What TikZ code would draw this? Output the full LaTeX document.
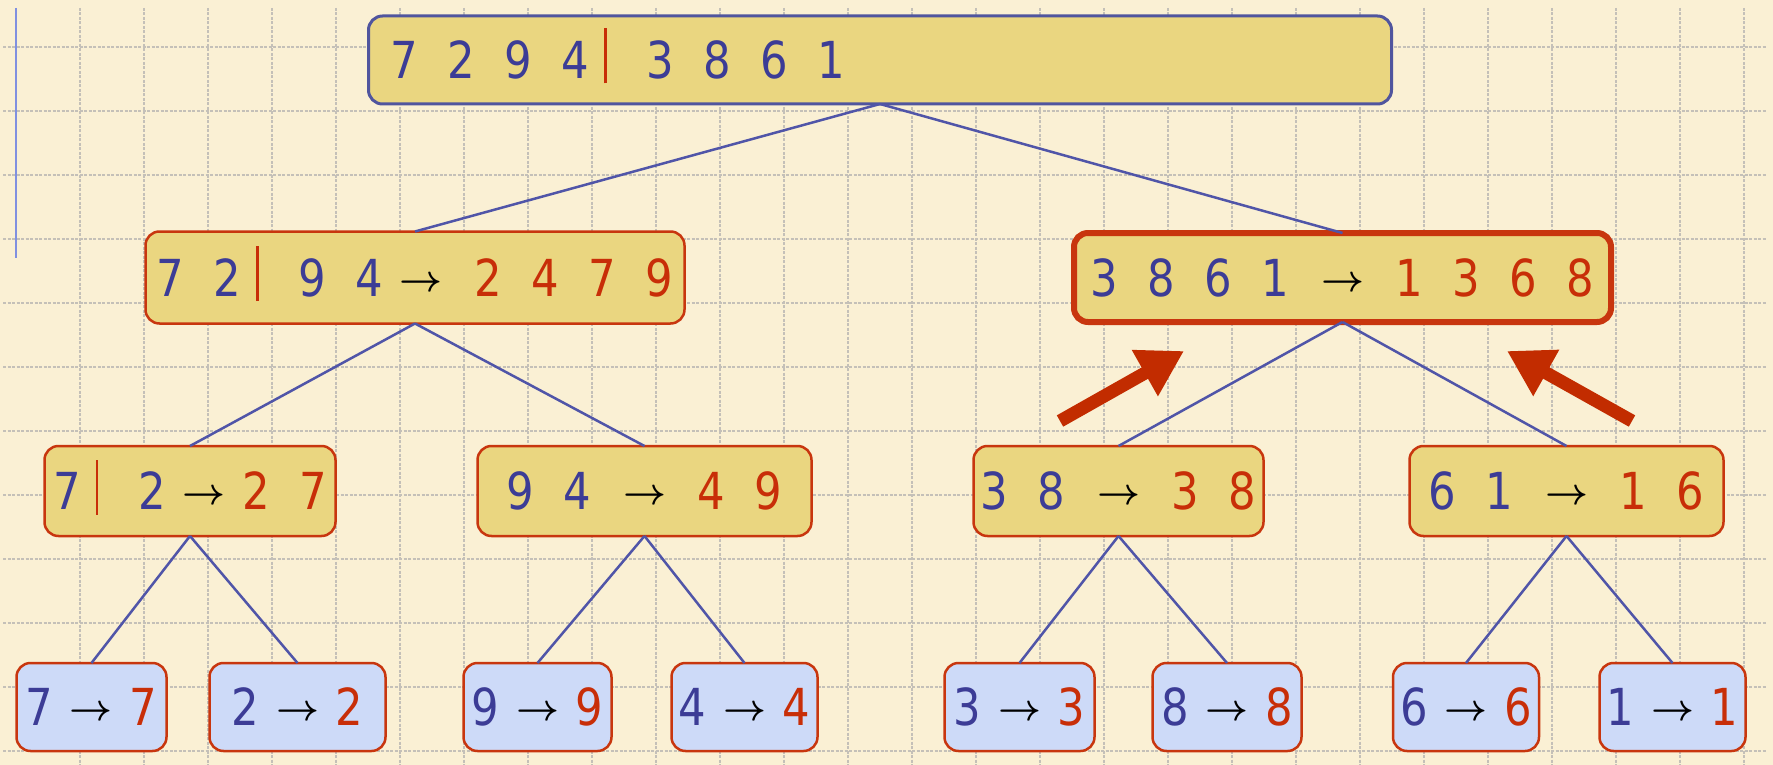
\documentclass[tikz,border=0pt]{standalone}
\usepackage{fontspec}
\usepackage{graphicx}
\setmainfont{DejaVu Sans}[FakeStretch=0.85]
\usetikzlibrary{arrows.meta}
\definecolor{bg}{HTML}{FAF0D4}
\definecolor{gridc}{HTML}{C4C0B8}
\definecolor{vline}{HTML}{8090E0}
\definecolor{nodey}{HTML}{EAD680}
\definecolor{leafb}{HTML}{CDDAF8}
\definecolor{bblue}{HTML}{50559E}
\definecolor{bred}{HTML}{C8360E}
\definecolor{tblue}{HTML}{3C3C96}
\definecolor{tred}{HTML}{C82E08}
\definecolor{conn}{HTML}{5055A8}
\definecolor{bigred}{HTML}{C22C00}
\newcommand\bd[1]{\makebox[42pt]{\textcolor{tblue}{#1}}}
\newcommand\rd[1]{\makebox[42pt]{\textcolor{tred}{#1}}}
\newcommand\gp{\hspace*{15pt}}
\newcommand\arr{\makebox[62pt]{\raisebox{5pt}{\resizebox{43pt}{!}{\boldmath$\rightarrow$}}}}
\newcommand\splt{\makebox[18pt]{\textcolor{tred}{\rule[-5pt]{2.5pt}{55pt}}}\hspace*{25pt}}
\tikzset{
  box/.style={draw=bred, rounded corners=14pt, fill=nodey, inner sep=0pt, outer sep=0pt,
    text height=37pt, text depth=0pt, font=\fontsize{51}{60}\selectfont, line width=2.5pt},
  leaf/.style={box, fill=leafb, minimum height=88pt},
  lvl/.style={box, minimum height=90pt},
  conn/.style={draw=conn, line width=2.5pt},
  grid/.style={draw=gridc, line width=1.3pt, dash pattern=on 3pt off 1.5pt},
  bigarrow/.style={draw=bigred, line width=13pt, -{Triangle[length=45pt,width=50pt]}}
}
\begin{document}
\begin{tikzpicture}[x=1pt,y=-1pt]
\fill[bg] (0,0) rectangle (1773,765);
\useasboundingbox (0,0) rectangle (1773,765);
% grid
\foreach \x in {80,144,...,1744} \draw[grid] (\x,8) -- (\x,765);
\foreach \y in {47,111,...,751} \draw[grid] (3,\y) -- (1767,\y);
\draw[draw=vline, line width=2pt] (16,8) -- (16,258);
% nodes
\node[box, draw=bblue, line width=3pt, minimum width=1023pt, minimum height=88pt] (top) at (880,60)
  {\makebox[993pt][l]{\bd7\gp\bd2\gp\bd9\gp\bd4\splt\bd3\gp\bd8\gp\bd6\gp\bd1}};
\node[box, minimum width=539pt, minimum height=92pt] (l) at (415,277.5)
  {\bd7\gp\bd2\splt\bd9\gp\bd4\arr\gp\rd2\gp\rd4\gp\rd7\gp\rd9};
\node[box, line width=6pt, minimum width=537pt, minimum height=89pt] (r) at (1342.5,277.5)
  {\bd3\gp\bd8\gp\bd6\gp\bd1\gp\arr\gp\rd1\gp\rd3\gp\rd6\gp\rd8};
\node[lvl, minimum width=291pt] (la) at (190,491) {\bd7\splt\bd2\arr\rd2\gp\rd7};
\node[lvl, minimum width=334pt] (lb) at (644.5,491) {\bd9\gp\bd4\gp\arr\gp\rd4\gp\rd9};
\node[lvl, minimum width=290pt] (rc) at (1118.5,491) {\bd3\gp\bd8\gp\arr\gp\rd3\gp\rd8};
\node[lvl, minimum width=314pt] (rd) at (1566.5,491) {\bd6\gp\bd1\gp\arr\gp\rd1\gp\rd6};
\node[leaf, minimum width=150pt] (x7) at (91.5,707) {\bd7\arr\rd7};
\node[leaf, minimum width=176pt] (x2) at (297.5,707) {\bd2\arr\rd2};
\node[leaf, minimum width=148pt] (x9) at (537.5,707) {\bd9\arr\rd9};
\node[leaf, minimum width=142pt] (x4) at (744.5,707) {\bd4\arr\rd4};
\node[leaf, minimum width=150pt] (x3) at (1019.5,707) {\bd3\arr\rd3};
\node[leaf, minimum width=149pt] (x8) at (1227,707) {\bd8\arr\rd8};
\node[leaf, minimum width=145pt] (x6) at (1466,707) {\bd6\arr\rd6};
\node[leaf, minimum width=142pt] (x1) at (1672.5,707) {\bd1\arr\rd1};
% connectors
\draw[conn] (top.south) -- (l.north);
\draw[conn] (top.south) -- (r.north);
\draw[conn] (l.south) -- (la.north);
\draw[conn] (l.south) -- (lb.north);
\draw[conn] (r.south) -- (rc.north);
\draw[conn] (r.south) -- (rd.north);
\draw[conn] (la.south) -- (x7.north);
\draw[conn] (la.south) -- (x2.north);
\draw[conn] (lb.south) -- (x9.north);
\draw[conn] (lb.south) -- (x4.north);
\draw[conn] (rc.south) -- (x3.north);
\draw[conn] (rc.south) -- (x8.north);
\draw[conn] (rd.south) -- (x6.north);
\draw[conn] (rd.south) -- (x1.north);
% red arrows
\coordinate (a1s) at (1060,421);
\coordinate (a1e) at (1184,351);
\coordinate (a2s) at (1632,421);
\coordinate (a2e) at (1507,351);
\draw[bigarrow] (a1s) -- (a1e);
\draw[bigarrow] (a2s) -- (a2e);
\end{tikzpicture}
\end{document}
